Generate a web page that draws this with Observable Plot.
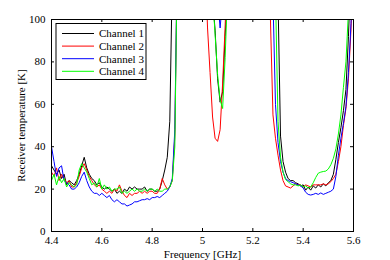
<!DOCTYPE html>
<html><head><meta charset="utf-8">
<script src="https://cdn.jsdelivr.net/npm/d3@7"></script>
<script src="https://cdn.jsdelivr.net/npm/@observablehq/plot@0.6"></script>
<style>body{margin:0;background:#fff}</style>
</head><body><div id="chart"></div>
<script>
const freq = [
 4.40,4.41,4.42,4.43,4.44,4.45,4.46,4.47,4.48,4.49,
 4.50,4.51,4.52,4.53,4.54,4.55,4.56,4.57,4.58,4.59,
 4.60,4.61,4.62,4.63,4.64,4.65,4.66,4.67,4.68,4.69,
 4.70,4.71,4.72,4.73,4.74,4.75,4.76,4.77,4.78,4.79,
 4.80,4.81,4.82,4.83,4.84,4.85,4.86,4.87,4.88,4.89,
 4.90,4.91,4.92,4.93,4.94,4.95,4.96,4.97,4.98,4.99,
 5.00,5.01,5.02,5.03,5.04,5.05,5.06,5.07,5.08,5.09,
 5.10,5.11,5.12,5.13,5.14,5.15,5.16,5.17,5.18,5.19,
 5.20,5.21,5.22,5.23,5.24,5.25,5.26,5.27,5.28,5.29,
 5.30,5.31,5.32,5.33,5.34,5.35,5.36,5.37,5.38,5.39,
 5.40,5.41,5.42,5.43,5.44,5.45,5.46,5.47,5.48,5.49,
 5.50,5.51,5.52,5.53,5.54,5.55,5.56,5.57,5.58,5.59,
 5.60];
const ch1 = [
 31,29,27,29,25,27,22,24,23,22,
 24,27,31,35,30,27,25,24,22,23,
 21,20,21,20,19,20,18,19,18,20,
 19,21,20,21,20,20,20,21,19,20,
 20,19,19,20,24,29,35,52,120,130,
 130,130,130,130,130,130,130,130,130,130,
 130,130,130,130,110,95,72,61,66,92,
 115,130,130,130,130,130,130,130,130,130,
 130,130,130,130,130,130,130,130,130,130,
 110,45,33,28,25,24,24,23,22.5,21.5,
 22,19.5,21,19.5,21.5,20.5,22,21,22.5,21.5,
 23,24,27,34,42,49,57,67,92,125,
 130];
const ch2 = [
 28,26,30,24,27,25,23,24,21,21,
 23,26,30,32,29,26,24,22,21,22,
 20,19,18,19,18,20,19,22,19,17,
 16,18,17,18,18,19,18,19,18,19,
 19,18,18,20,25,22,20,21,24,45,
 130,130,130,130,130,130,130,130,130,130,
 130,130,96,75,54,44,42.5,48,70,97,
 130,130,130,130,130,130,130,130,130,130,
 130,130,130,130,130,130,130,100,55,44,
 36,29,24,21.5,21,20.5,21.5,22.5,22,22,
 21,22,21.5,21,22,22,22,22,22.5,22,
 22.5,23.5,25,27,33,40,50,58,72,95,
 130];
const ch3 = [
 40,33,26,30,31,24,23,22,20,20,
 21,23,26,28,24,21,19,18,18,17,
 18,17,16,17,15,14,15,14,13,13,
 12,12.5,13,14,14,14.5,15,15,15.5,15,
 16,16,16.5,16,17,18,19,21,25,48,
 130,130,130,130,130,130,130,130,130,130,
 130,130,130,130,130,130,110,96,110,130,
 130,130,130,130,130,130,130,130,130,130,
 130,130,130,130,130,130,130,130,110,60,
 42,33,28,25,24,23.5,23,22.5,22,21.5,
 20.5,18.5,17.5,17.2,17.5,18,17.5,18.2,17.5,18,
 18.5,19,20,26,36,44,51,59,75,98,
 130];
const ch4 = [
 24,27,22,26,23,25,21,23,22,21,
 22,29,32,30,28,25,22,23,21,25,
 20,22,20,21,19,20,20,21,18,19,
 18,19,20,19,20,19,19,20,19,20,
 20,19,20,19,19,20,20,21,24,40,
 130,130,130,130,130,130,130,130,130,130,
 130,130,130,130,112,93,74,62,58,82,
 115,130,130,130,130,130,130,130,130,130,
 130,130,130,130,130,130,130,130,130,112,
 52,35,28,24.5,23.5,22.5,22,22,21.5,22,
 21,21.5,20.5,21,23,25.5,27.5,28,28.3,28.5,
 29.5,31.5,34.5,39,46,55,68,80,104,130,
 130];
const channelNames = ["Channel 1","Channel 2","Channel 3","Channel 4"];
const channelColors = ["#000000","#ff0000","#0000ff","#00ff00"];
const xTicks = [4.4,4.6,4.8,5.0,5.2,5.4,5.6];
const xTickLabels = ["4.4","4.6","4.8","5","5.2","5.4","5.6"];
const yTicks = [0,20,40,60,80,100];

const series = [ch1,ch2,ch3,ch4];
const rows = series.flatMap((s,k)=> s.map((v,i)=>({f:freq[i], T:v, ch:channelNames[k]})));

const W=390,H=260,mL=51,mR=37,mT=19,mB=29;
const iw=W-mL-mR, ih=H-mT-mB, tick=3;

const plot = Plot.plot({
  width:W, height:H, marginLeft:mL, marginRight:mR, marginTop:mT, marginBottom:mB,
  style:{fontFamily:"'Liberation Serif','Times New Roman',serif", fontSize:"11px", background:"white", color:"black"},
  x:{domain:[4.4,5.6]},
  y:{domain:[0,100]},
  color:{domain:channelNames, range:channelColors},
  marks:[
    Plot.line(rows,{x:"f", y:"T", stroke:"ch", z:"ch", strokeWidth:1, clip:true}),
    Plot.frame({stroke:"black", strokeWidth:1}),
    Plot.ruleX(xTicks,{x:d=>d, insetTop:ih-tick, stroke:"black"}),
    Plot.ruleX(xTicks,{x:d=>d, insetBottom:ih-tick, stroke:"black"}),
    Plot.ruleY(yTicks,{y:d=>d, insetRight:iw-tick, stroke:"black"}),
    Plot.ruleY(yTicks,{y:d=>d, insetLeft:iw-tick, stroke:"black"}),
    Plot.axisX(xTicks,{tickSize:0, tickPadding:5, tickFormat:d=>xTickLabels[xTicks.indexOf(d)], label:"Frequency [GHz]", labelAnchor:"center", labelArrow:"none", labelOffset:26}),
    Plot.axisY(yTicks,{tickSize:0, tickPadding:6, label:"Receiver temperature [K]", labelAnchor:"center", labelArrow:"none", labelOffset:34})
  ]
});

const svg = d3.select(plot);
const lg = svg.append("g").attr("text-anchor","start");
lg.append("rect").attr("x",56).attr("y",23.5).attr("width",90).attr("height",56)
  .attr("fill","white").attr("stroke","black").attr("stroke-width",1);
channelNames.forEach((name,k)=>{
  const yy = 33.5 + k*12.6;
  lg.append("line").attr("x1",62).attr("x2",94).attr("y1",yy).attr("y2",yy)
    .attr("stroke",channelColors[k]).attr("stroke-width",1);
  lg.append("text").attr("x",99).attr("y",yy).attr("dy","0.35em")
    .attr("text-anchor","start").attr("fill","black").text(name);
});
document.getElementById("chart").appendChild(plot);
</script>
</body></html>
